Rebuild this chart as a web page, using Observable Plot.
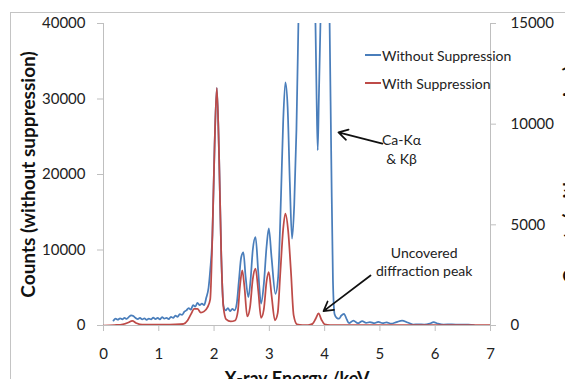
<!DOCTYPE html>
<html><head><meta charset="utf-8">
<script src="https://cdn.jsdelivr.net/npm/d3@7"></script>
<script src="https://cdn.jsdelivr.net/npm/@observablehq/plot@0.6"></script>
<style>
html,body{margin:0;padding:0;background:#fff;overflow:hidden}
#wrap{position:relative;width:565px;height:379px;overflow:hidden;font-family:Lato,sans-serif}
#wrap svg{position:absolute;left:0;top:0}
#border{position:absolute;left:10px;top:12px;width:700px;height:500px;border-left:1px solid #c4c4c4;border-top:1px solid #c4c4c4;pointer-events:none}
#legend{position:absolute;left:365px;top:41px;font-size:14px;color:#222}
.item{display:flex;align-items:center;height:28px;white-space:nowrap}
.sw{display:inline-block;width:16px;height:0;border-top:2px solid;margin-right:1px}
</style></head><body><div id="wrap"><div id="border"></div></div>
<script>
// ---- data ----
const seriesNames = ["Without Suppression", "With Suppression"];
const seriesColors = ["#4A7EBB", "#BE4B48"];
const xTicks = [0, 1, 2, 3, 4, 5, 6, 7];
const leftTicks = [0, 10000, 20000, 30000, 40000];
const rightTicks = [0, 5000, 10000, 15000];
const leftMax = 40000, rightMax = 15000;

const blueEnergy = [0.18,0.22,0.26,0.3,0.34,0.38,0.42,0.46,0.5,0.54,0.58,0.62,0.66,0.7,0.74,0.78,0.82,0.86,0.9,0.94,0.98,1.02,1.06,1.1,1.14,1.18,1.22,1.26,1.3,1.34,1.38,1.42,1.46,1.5,1.54,1.58,1.62,1.66,1.7,1.74,1.78,1.82,1.86,1.9,1.93,1.97,2.01,2.05,2.09,2.13,2.17,2.21,2.25,2.29,2.33,2.37,2.41,2.45,2.49,2.53,2.57,2.62,2.66,2.7,2.75,2.8,2.85,2.9,2.95,2.99,3.04,3.11,3.16,3.21,3.25,3.29,3.33,3.37,3.41,3.45,3.49,3.53,3.58,3.7,3.8,3.834,3.855,3.875,3.895,3.924,3.96,4.05,4.09,4.12,4.15,4.18,4.22,4.26,4.3,4.35,4.4,4.44,4.52,4.6,4.68,4.75,4.82,4.9,4.97,5.05,5.12,5.2,5.3,5.4,5.5,5.6,5.7,5.8,5.9,5.97,6.05,6.15,6.3,6.45,6.6,6.7];
const blueCounts = [650,900,780,950,820,1000,880,1150,1350,1250,1000,850,1000,800,950,750,900,800,1050,850,1000,800,1100,900,1000,850,1150,1000,1300,1150,1500,1400,1800,2000,2300,2100,2700,2500,3000,2700,2900,2700,3700,5000,7300,12000,24000,31470,22670,9330,2600,2000,2300,1900,2200,2000,2900,6000,9000,9700,6500,3750,6000,10000,11700,7000,2900,5500,10500,12850,9000,4200,6500,17000,27000,32200,29000,19000,11500,16000,26000,42000,60000,62000,50000,40000,30000,23200,30000,40000,55000,55000,40000,22000,6000,1500,1000,900,1300,1550,800,300,650,300,580,350,450,300,480,300,420,250,450,650,400,130,150,120,250,450,250,120,150,100,120,60];

const redEnergy = [0,0.2,0.35,0.45,0.52,0.6,0.7,0.9,1.1,1.3,1.45,1.52,1.58,1.64,1.7,1.76,1.82,1.88,1.93,1.97,2.01,2.05,2.09,2.13,2.17,2.22,2.3,2.38,2.43,2.47,2.51,2.55,2.6,2.65,2.7,2.75,2.8,2.85,2.9,2.95,2.99,3.04,3.1,3.15,3.2,3.25,3.29,3.34,3.39,3.44,3.5,3.6,3.7,3.78,3.84,3.89,3.94,4.0,4.1,4.5,5,5.5,6,6.5,7];
const redCounts = [0,20,60,150,230,110,40,40,40,50,80,250,550,820,820,640,700,900,1300,4500,9000,11800,8500,3500,900,300,200,250,700,2000,2740,1900,450,900,2300,2820,1700,380,800,2200,2650,1500,260,600,2700,4800,5560,4700,2700,500,60,20,20,80,350,600,300,60,20,20,20,20,20,20,20];

// annotations (positions in energy / left-axis counts)
const noteText = ["Ca-K\u03b1\n& K\u03b2", "Uncovered\ndiffraction peak"];
const noteX = [5.39, 5.8];
const noteY = [23400, 8550];
const arrowX1 = [5.045, 4.83], arrowY1 = [24100, 6625];
const arrowX2 = [4.25, 3.98], arrowY2 = [25570, 1900];

// ---- build ----
const k = leftMax / rightMax;
const blue = blueEnergy.map((x, i) => ({x, y: blueCounts[i]}));
const red = redEnergy.map((x, i) => ({x, y: redCounts[i] * k}));
const notes = noteText.map((t, i) => ({t, x: noteX[i], y: noteY[i]}));
const arrows = arrowX1.map((x1, i) => ({x1, y1: arrowY1[i], x2: arrowX2[i], y2: arrowY2[i]}));
const axisGray = "#bfbfbf";

const chart = Plot.plot({
  width: 565, height: 379,
  marginLeft: 103, marginRight: 75, marginTop: 23, marginBottom: 54,
  style: {fontFamily: "Lato, sans-serif", fontSize: "15px", color: "#222", background: "transparent"},
  x: {domain: [0, 7]},
  y: {domain: [0, leftMax]},
  marks: [
    Plot.ruleX([0, 7], {stroke: axisGray}),
    Plot.ruleY([0], {stroke: axisGray}),
    Plot.axisX(xTicks, {tickSize: 6, tickPadding: 17, stroke: axisGray, fill: "#222", label: null, tickFormat: d => String(d)}),
    Plot.axisY(leftTicks, {anchor: "left", tickSize: 6, tickPadding: 12, stroke: axisGray, fill: "#222", label: null, tickFormat: d => String(d)}),
    Plot.axisY(rightTicks.map(t => t * k), {anchor: "right", tickSize: 5, tickPadding: 15, stroke: axisGray, fill: "#222", label: null, tickFormat: d => String(Math.round(d / k))}),
    Plot.line(blue, {x: "x", y: "y", stroke: seriesColors[0], strokeWidth: 1.75, curve: "monotone-x", clip: true}),
    Plot.line(red, {x: "x", y: "y", stroke: seriesColors[1], strokeWidth: 1.75, curve: "monotone-x", clip: true}),
    Plot.arrow(arrows, {x1: "x1", y1: "y1", x2: "x2", y2: "y2", stroke: "#111", strokeWidth: 1.75, headLength: 9}),
    Plot.text(notes, {x: "x", y: "y", text: "t", fontSize: 14, lineHeight: 1.35, fill: "#222"}),
    Plot.text(["Counts (without suppression)"], {text: d => d, frameAnchor: "left", textAnchor: "middle", rotate: -90, dx: -75, fontWeight: "bold", fontSize: 19, fill: "#111"}),
    Plot.text(["Counts (with suppression)"], {text: d => d, frameAnchor: "right", textAnchor: "middle", rotate: -90, dx: 80, fontWeight: "bold", fontSize: 19, fill: "#111"}),
    Plot.text(["X-ray Energy /keV"], {text: d => d, frameAnchor: "bottom", lineAnchor: "top", dy: 47, fontWeight: "bold", fontSize: 18, fill: "#111"})
  ]
});
const wrap = document.getElementById("wrap");
wrap.insertBefore(chart, wrap.firstChild);

const legend = document.createElement("div");
legend.id = "legend";
seriesNames.forEach((n, i) => {
  const it = document.createElement("div");
  it.className = "item";
  const sw = document.createElement("span");
  sw.className = "sw";
  sw.style.borderTopColor = seriesColors[i];
  it.appendChild(sw);
  it.appendChild(document.createTextNode(n));
  legend.appendChild(it);
});
wrap.appendChild(legend);
</script></body></html>
